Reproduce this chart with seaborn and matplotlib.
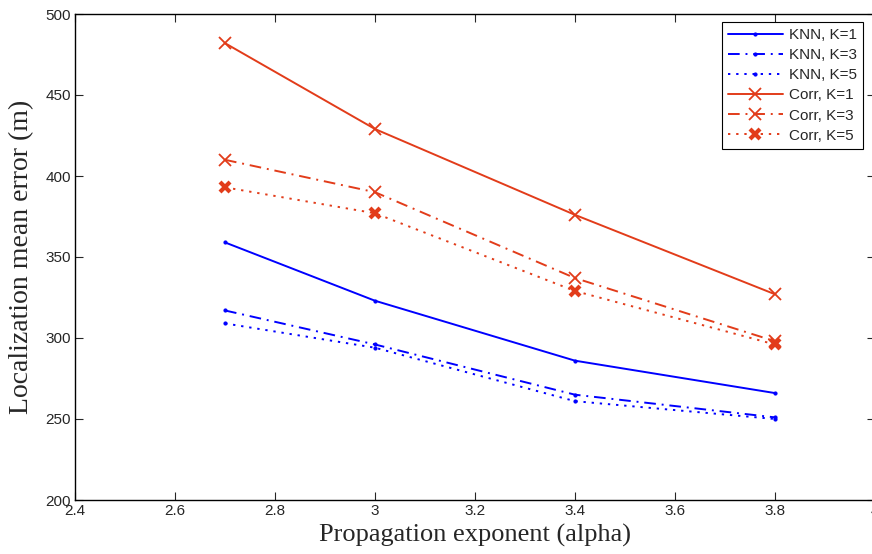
import matplotlib
matplotlib.use("Agg")
import matplotlib.pyplot as plt
import seaborn as sns
import pandas as pd
from matplotlib.ticker import FuncFormatter, MultipleLocator

alpha = [2.7, 3.0, 3.4, 3.8]
knn_k1 = [359, 323, 286, 266]
knn_k3 = [317, 296, 265, 251]
knn_k5 = [309, 294, 261, 250]
corr_k1 = [482, 429, 376, 327]
corr_k3 = [410, 390, 337, 298]
corr_k5 = [393, 377, 329, 296]
labels = ["KNN, K=1", "KNN, K=3", "KNN, K=5", "Corr, K=1", "Corr, K=3", "Corr, K=5"]

sns.set_style("ticks")
plt.rcParams['font.family'] = ['Liberation Sans', 'DejaVu Sans']

blue = "#0000ff"
red = "#e23c1a"

fig = plt.figure(figsize=(8.72, 5.54), dpi=100)
ax = fig.add_axes([75/872, 1-500/554, 800/872, 486/554])

series = [knn_k1, knn_k3, knn_k5, corr_k1, corr_k3, corr_k5]
styles = [
    dict(color=blue, linestyle='-', marker='.', markersize=4.5),
    dict(color=blue, linestyle=(0, (6, 3, 1, 3)), marker='.', markersize=4.5),
    dict(color=blue, linestyle=(0, (1.2, 3)), marker='.', markersize=4.5),
    dict(color=red, linestyle='-', marker='x', markersize=8.5, markeredgewidth=1.3),
    dict(color=red, linestyle=(0, (6, 3, 1, 3)), marker='x', markersize=8.5, markeredgewidth=1.3),
    dict(color=red, linestyle=(0, (1.2, 3)), marker='x', markersize=7.5, markeredgewidth=3),
]

for vals, lab, st in zip(series, labels, styles):
    df = pd.DataFrame({"alpha": alpha, "err": vals})
    sns.lineplot(data=df, x="alpha", y="err", ax=ax, label=lab, linewidth=1.4,
                 markeredgecolor=st["color"], markerfacecolor=st["color"], **st)

ax.set_xlim(2.4, 4.0)
ax.set_ylim(200, 500)
ax.xaxis.set_major_locator(MultipleLocator(0.2))
ax.yaxis.set_major_locator(MultipleLocator(50))
ax.xaxis.set_major_formatter(FuncFormatter(lambda v, p: "%g" % round(v, 2)))
ax.tick_params(direction='in', top=True, right=True, length=6, width=0.8, labelsize=11, pad=3)
for s in ax.spines.values():
    s.set_linewidth(1.0)
    s.set_color('black')

ax.set_xlabel("Propagation exponent (alpha)", family=['Liberation Serif', 'DejaVu Serif'], fontsize=19, labelpad=4)
ax.set_ylabel("Localization mean error (m)", family=['Liberation Serif', 'DejaVu Serif'], fontsize=20, labelpad=8)

leg = ax.legend(loc='upper right', bbox_to_anchor=(863/872, 1-22/554), bbox_transform=fig.transFigure,
                fontsize=11, frameon=True, fancybox=False, edgecolor='black', framealpha=1,
                handlelength=3.6, borderpad=0.4, labelspacing=0.4, handletextpad=0.4, borderaxespad=0)
leg.get_frame().set_linewidth(0.8)

fig.savefig("out.png", dpi=100)
